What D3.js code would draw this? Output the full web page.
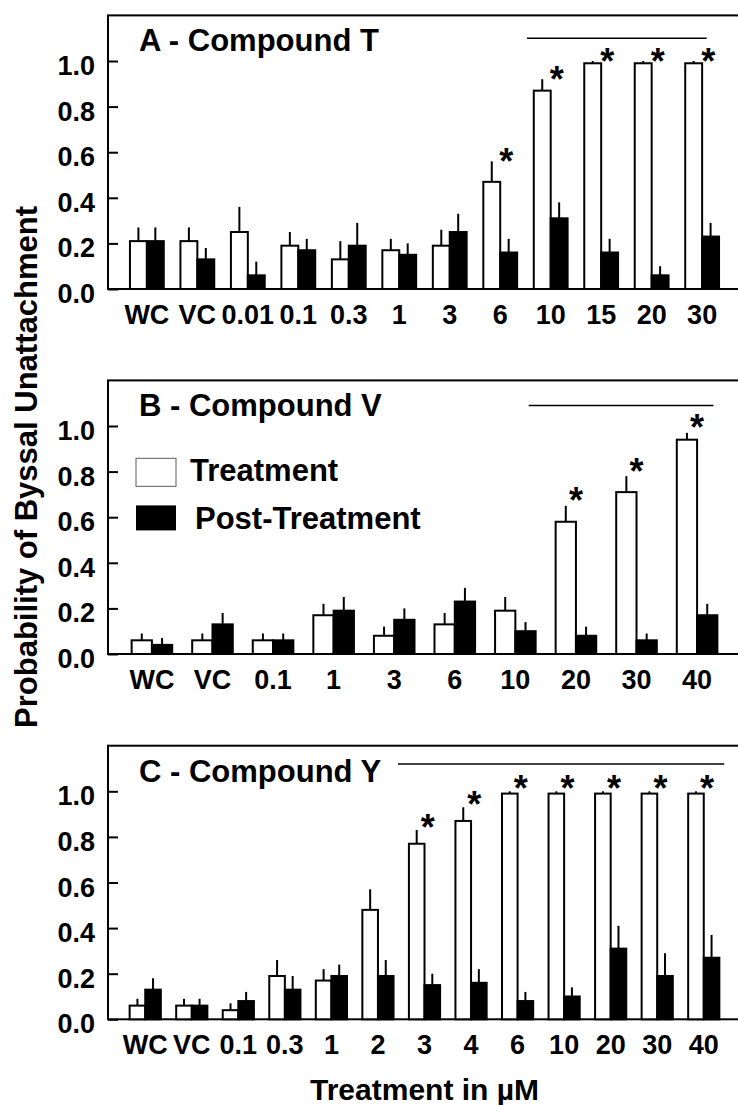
<!DOCTYPE html>
<html>
<head>
<meta charset="utf-8">
<script src="https://cdn.jsdelivr.net/npm/d3@7"></script>
<style>
  html, body { margin: 0; padding: 0; background: #fff; }
  svg { display: block; }
  text { font-family: "Liberation Sans", Arial, Helvetica, sans-serif; font-weight: bold; fill: #000; }
</style>
</head>
<body>
<svg id="chart" width="738" height="1105"></svg>
<script>
// ---------------- DATA ----------------
const seriesNames = ["Treatment", "Post-Treatment"];
const yTicks = [0, 0.2, 0.4, 0.6, 0.8, 1.0];

// Panel A - Compound T
const titleA = "A - Compound T";
const categoriesA = ["WC","VC","0.01","0.1","0.3","1","3","6","10","15","20","30"];
const treatmentA    = [0.21,0.21,0.25,0.19,0.13,0.17,0.19,0.47,0.87,0.99,0.99,0.99];
const treatmentErrA = [0.06,0.06,0.11,0.06,0.08,0.05,0.07,0.09,0.05,0.01,0.01,0.01];
const postA         = [0.21,0.13,0.06,0.17,0.19,0.15,0.25,0.16,0.31,0.16,0.06,0.23];
const postErrA      = [0.06,0.05,0.06,0.05,0.10,0.05,0.08,0.06,0.07,0.06,0.04,0.06];
const sigA          = [0,0,0,0,0,0,0,1,1,1,1,1];
const sigLineA      = { from: "10", to: "30", y: 1.10 };

// Panel B - Compound V
const titleB = "B - Compound V";
const categoriesB = ["WC","VC","0.1","1","3","6","10","20","30","40"];
const treatmentB    = [0.06,0.06,0.06,0.17,0.08,0.13,0.19,0.58,0.71,0.94];
const treatmentErrB = [0.03,0.03,0.03,0.05,0.04,0.05,0.06,0.07,0.07,0.03];
const postB         = [0.04,0.13,0.06,0.19,0.15,0.23,0.10,0.08,0.06,0.17];
const postErrB      = [0.03,0.05,0.03,0.06,0.05,0.06,0.04,0.04,0.03,0.05];
const sigB          = [0,0,0,0,0,0,0,1,1,1];
const sigLineB      = { from: "20", to: "40", y: 1.09 };

// Panel C - Compound Y
const titleC = "C - Compound Y";
const categoriesC = ["WC","VC","0.1","0.3","1","2","3","4","6","10","20","30","40"];
const treatmentC    = [0.06,0.06,0.04,0.19,0.17,0.48,0.77,0.87,0.99,0.99,0.99,0.99,0.99];
const treatmentErrC = [0.03,0.03,0.03,0.07,0.05,0.09,0.06,0.06,0.01,0.01,0.01,0.01,0.01];
const postC         = [0.13,0.06,0.08,0.13,0.19,0.19,0.15,0.16,0.08,0.10,0.31,0.19,0.27];
const postErrC      = [0.05,0.03,0.04,0.06,0.05,0.07,0.05,0.06,0.04,0.04,0.10,0.10,0.10];
const sigC          = [0,0,0,0,0,0,1,1,1,1,1,1,1];
const sigLineC      = { from: "2", to: "40", y: 1.12 };

const yAxisTitle = "Probability of Byssal Unattachment";
const xAxisTitle = "Treatment in \u00B5M";

// ---------------- LAYOUT / STYLE ----------------
const svg = d3.select("#chart");
const plotLeft = 108, plotRight = 741;
const unitPx = 228;           // pixels per 1.0
const yMax = 1.2;

const panels = [
  { title: titleA, cats: categoriesA, t: treatmentA, te: treatmentErrA, p: postA, pe: postErrA, sig: sigA, line: sigLineA,
    bottom: 289, padOuter: 0.27, lineOff: [-0.47, 0.09], starDx: 0.12, starDy: -7.5, legend: false },
  { title: titleB, cats: categoriesB, t: treatmentB, te: treatmentErrB, p: postB, pe: postErrB, sig: sigB, line: sigLineB,
    bottom: 654, padOuter: 0.225, lineOff: [-0.78, 0.27], starDx: 0.0, starDy: -12.5, legend: true },
  { title: titleC, cats: categoriesC, t: treatmentC, te: treatmentErrC, p: postC, pe: postErrC, sig: sigC, line: sigLineC,
    bottom: 1019.3, padOuter: 0.30, lineOff: [0.43, 0.44], starDx: 0.07, starDy: -10.5, legend: false }
];

const barFrac = 0.335;  // each bar's width as fraction of category step
const fontStack = "'Liberation Sans', Arial, sans-serif";

panels.forEach(P => {
  const top = P.bottom - yMax * unitPx;
  const y = d3.scaleLinear().domain([0, yMax]).range([P.bottom, top]);
  const x0 = d3.scaleBand().domain(P.cats).range([plotLeft, plotRight])
    .paddingInner(0).paddingOuter(P.padOuter);
  const step = x0.step();
  const bw = step * barFrac;
  const cx = c => x0(c) + x0.bandwidth() / 2;

  const g = svg.append("g");

  // frame (left, top, bottom; right edge lies beyond the canvas)
  g.append("rect")
    .attr("x", plotLeft).attr("y", top)
    .attr("width", plotRight - plotLeft).attr("height", P.bottom - top)
    .attr("fill", "none").attr("stroke", "#000").attr("stroke-width", 2);

  // y axis with inward ticks
  const yAxis = d3.axisLeft(y).tickValues(yTicks).tickFormat(d3.format(".1f"))
    .tickSizeInner(-10).tickSizeOuter(0).tickPadding(13);
  const ya = g.append("g").attr("transform", `translate(${plotLeft},0)`).call(yAxis);
  ya.select(".domain").remove();
  ya.selectAll(".tick line").attr("stroke", "#000").attr("stroke-width", 2);
  ya.selectAll(".tick text")
    .style("font-size", "27px").style("font-family", fontStack)
    .style("font-weight", "bold").attr("fill", "#000").attr("dy", "0.5em");

  // x axis labels
  const xAxis = d3.axisBottom(x0).tickSize(0).tickPadding(0);
  const xa = g.append("g").attr("transform", `translate(0,${P.bottom})`).call(xAxis);
  xa.select(".domain").remove();
  xa.selectAll(".tick text")
    .style("font-size", "27px").style("font-family", fontStack)
    .style("font-weight", "bold").attr("fill", "#000")
    .attr("y", 35).attr("dy", 0);

  const rows = P.cats.map((c, i) => ({ c, t: P.t[i], te: P.te[i], p: P.p[i], pe: P.pe[i], sig: P.sig[i] }));

  // error bars (upper only)
  g.selectAll(".errT").data(rows).join("line")
    .attr("x1", d => cx(d.c) - bw / 2).attr("x2", d => cx(d.c) - bw / 2)
    .attr("y1", d => y(d.t)).attr("y2", d => y(d.t + d.te))
    .attr("stroke", "#000").attr("stroke-width", 2);
  g.selectAll(".errP").data(rows).join("line")
    .attr("x1", d => cx(d.c) + bw / 2).attr("x2", d => cx(d.c) + bw / 2)
    .attr("y1", d => y(d.p)).attr("y2", d => y(d.p + d.pe))
    .attr("stroke", "#000").attr("stroke-width", 2);

  // treatment bars (white)
  g.selectAll(".barT").data(rows).join("rect")
    .attr("x", d => cx(d.c) - bw).attr("width", bw)
    .attr("y", d => y(d.t)).attr("height", d => y(0) - y(d.t))
    .attr("fill", "#fff").attr("stroke", "#000").attr("stroke-width", 2);
  // post-treatment bars (black)
  g.selectAll(".barP").data(rows).join("rect")
    .attr("x", d => cx(d.c)).attr("width", bw)
    .attr("y", d => y(d.p)).attr("height", d => y(0) - y(d.p))
    .attr("fill", "#000").attr("stroke", "#000").attr("stroke-width", 2);

  // asterisks
  g.selectAll(".star").data(rows.filter(d => d.sig)).join("text")
    .attr("x", d => cx(d.c) + P.starDx * step)
    .attr("y", d => y(d.t + d.te) + P.starDy + 20)
    .attr("text-anchor", "middle")
    .style("font-size", "36px")
    .text("*");

  // significance line
  g.append("line")
    .attr("x1", cx(P.line.from) + P.lineOff[0] * step)
    .attr("x2", cx(P.line.to) + P.lineOff[1] * step)
    .attr("y1", y(P.line.y)).attr("y2", y(P.line.y))
    .attr("stroke", "#000").attr("stroke-width", 1.5);

  // panel title
  g.append("text").attr("x", 139).attr("y", top + 36)
    .style("font-size", "31px").text(P.title);

  // legend
  if (P.legend) {
    const lg = g.append("g");
    lg.append("rect").attr("x", 136).attr("y", top + 78).attr("width", 40).attr("height", 28)
      .attr("fill", "#fff").attr("stroke", "#777").attr("stroke-width", 1.2);
    lg.append("text").attr("x", 190).attr("y", top + 101).style("font-size", "31px").text(seriesNames[0]);
    lg.append("rect").attr("x", 136).attr("y", top + 125).attr("width", 40).attr("height", 25)
      .attr("fill", "#000");
    lg.append("text").attr("x", 195).attr("y", top + 149).style("font-size", "31px").text(seriesNames[1]);
  }
});

// axis titles
svg.append("text")
  .attr("transform", `translate(36.5,467) rotate(-90)`)
  .attr("text-anchor", "middle")
  .style("font-size", "31px")
  .text(yAxisTitle);

svg.append("text")
  .attr("x", (plotLeft + plotRight) / 2).attr("y", 1100)
  .attr("text-anchor", "middle")
  .style("font-size", "30px")
  .text(xAxisTitle);
</script>
</body>
</html>
